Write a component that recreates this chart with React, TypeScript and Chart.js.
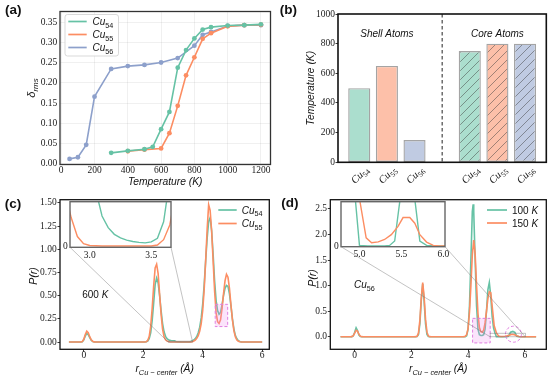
import React, { useEffect, useRef } from 'react';
import { Chart, registerables } from 'chart.js';

Chart.register(...registerables);

const W = 554;
const H = 375;
const SANS = '"Liberation Sans", Arial, sans-serif';
const SERIF = '"Liberation Serif", "Times New Roman", serif';
const GREEN = '#66c2a5';
const ORANGE = '#fc8d62';
const PURPLE = '#8da0cb';

// ---------------- (a) delta_rms vs temperature ----------------
const tempCu54 = [300, 400, 500, 550, 600, 650, 700, 750, 800, 850, 900, 1000, 1100, 1200];
const deltaCu54 = [0.026, 0.031, 0.035, 0.041, 0.085, 0.128, 0.238, 0.282, 0.311, 0.333, 0.339, 0.343, 0.344, 0.346];
const tempCu55 = [400, 500, 600, 650, 700, 750, 800, 850, 900, 1000, 1100, 1200];
const deltaCu55 = [0.030, 0.034, 0.037, 0.075, 0.143, 0.219, 0.264, 0.310, 0.324, 0.341, 0.344, 0.345];
const tempCu56 = [50, 100, 150, 200, 300, 400, 500, 600, 700, 800, 850, 900, 1000, 1100, 1200];
const deltaCu56 = [0.011, 0.015, 0.046, 0.166, 0.235, 0.242, 0.245, 0.251, 0.262, 0.293, 0.320, 0.327, 0.342, 0.344, 0.344];
const tempTicks = [0, 200, 400, 600, 800, 1000, 1200];
const deltaTicks = [0, 0.05, 0.1, 0.15, 0.2, 0.25, 0.3, 0.35];

// ---------------- (b) melting temperatures ----------------
const clusterSizes = ['54', '55', '56'];
const shellPos = [0, 1, 2];
const corePos = [4, 5, 6];
const shellMelt = [500, 650, 150];
const coreMelt = [750, 800, 800];
const separatorPos = 3;
const meltTicks = [0, 200, 400, 600, 800, 1000];

// ---------------- (c) P(r), 600 K ----------------
const pCu54: [number, number][] = [
  [-0.5, 0], [-0.3, 0], [-0.1, 0], [-0.05, 0.004], [0, 0.025], [0.05, 0.065], [0.1, 0.093], [0.15, 0.08], [0.2, 0.048],
  [0.25, 0.02], [0.3, 0.007], [0.35, 0.002], [0.4, 0], [1.0, 0], [2.0, 0], [2.05, 0.001], [2.1, 0.003], [2.15, 0.011],
  [2.2, 0.036], [2.25, 0.1], [2.3, 0.23], [2.35, 0.42], [2.4, 0.62], [2.45, 0.69], [2.5, 0.64], [2.55, 0.5], [2.6, 0.34],
  [2.65, 0.2], [2.7, 0.11], [2.75, 0.062], [2.8, 0.037], [2.85, 0.024], [2.9, 0.018], [2.95, 0.015], [3.0, 0.014],
  [3.05, 0.0125], [3.1, 0.0068], [3.15, 0.0042], [3.2, 0.0027], [3.25, 0.0019], [3.3, 0.0014], [3.35, 0.0011],
  [3.4, 0.0009], [3.45, 0.0008], [3.5, 0.001], [3.55, 0.0018], [3.6, 0.0055], [3.65, 0.015], [3.7, 0.022], [3.75, 0.036],
  [3.8, 0.06], [3.85, 0.1], [3.9, 0.16], [3.95, 0.26], [4.0, 0.41], [4.05, 0.62], [4.1, 0.88], [4.15, 1.12], [4.2, 1.3],
  [4.25, 1.34], [4.3, 1.2], [4.35, 0.95], [4.4, 0.66], [4.45, 0.45], [4.5, 0.34], [4.55, 0.3], [4.6, 0.32], [4.65, 0.4],
  [4.7, 0.5], [4.75, 0.58], [4.8, 0.61], [4.85, 0.6], [4.9, 0.52], [4.95, 0.39], [5.0, 0.25], [5.05, 0.14], [5.1, 0.07],
  [5.15, 0.035], [5.2, 0.015], [5.25, 0.006], [5.3, 0.002], [5.35, 0], [6.0, 0],
];
const pCu55: [number, number][] = [
  [-0.5, 0], [-0.3, 0], [-0.1, 0], [-0.05, 0.005], [0, 0.03], [0.05, 0.08], [0.1, 0.117], [0.15, 0.1], [0.2, 0.058],
  [0.25, 0.025], [0.3, 0.008], [0.35, 0.002], [0.4, 0], [1.0, 0], [2.0, 0], [2.05, 0.001], [2.1, 0.004], [2.15, 0.016],
  [2.2, 0.06], [2.25, 0.17], [2.3, 0.36], [2.35, 0.6], [2.4, 0.8], [2.45, 0.84], [2.5, 0.74], [2.55, 0.52], [2.6, 0.3],
  [2.65, 0.14], [2.7, 0.058], [2.75, 0.024], [2.8, 0.012], [2.85, 0.0064], [2.9, 0.0022], [2.95, 0.0006], [3.0, 0.0002],
  [3.1, 0.0001], [3.5, 0.0001], [3.55, 0.0003], [3.6, 0.0015], [3.65, 0.0048], [3.7, 0.012], [3.75, 0.022], [3.8, 0.04],
  [3.85, 0.07], [3.9, 0.12], [3.95, 0.2], [4.0, 0.34], [4.05, 0.57], [4.1, 0.88], [4.15, 1.22], [4.2, 1.48], [4.25, 1.42],
  [4.3, 1.2], [4.35, 0.88], [4.4, 0.55], [4.45, 0.32], [4.5, 0.22], [4.55, 0.2], [4.6, 0.24], [4.65, 0.36], [4.7, 0.52],
  [4.75, 0.66], [4.8, 0.73], [4.85, 0.7], [4.9, 0.58], [4.95, 0.4], [5.0, 0.24], [5.05, 0.12], [5.1, 0.055], [5.15, 0.022],
  [5.2, 0.008], [5.25, 0.003], [5.3, 0.001], [5.35, 0], [6.0, 0],
];
const pTicksC = [0, 0.25, 0.5, 0.75, 1.0, 1.25, 1.5];
const rTicks = [0, 2, 4, 6];
const insetTicksC = [3.0, 3.5];
const highlightC = { x: [4.42, 4.84], y: [0.167, 0.407] };

// ---------------- (d) P(r), Cu56 ----------------
const p100K: [number, number][] = [
  [-0.5, 0], [-0.15, 0], [-0.1, 0.002], [-0.05, 0.015], [0, 0.09], [0.05, 0.175], [0.1, 0.12], [0.15, 0.035], [0.2, 0.005],
  [0.25, 0], [2.15, 0], [2.2, 0.003], [2.25, 0.04], [2.3, 0.25], [2.35, 0.72], [2.4, 1.03], [2.45, 0.7], [2.5, 0.25],
  [2.55, 0.045], [2.6, 0.004], [2.65, 0], [3.85, 0], [3.9, 0.002], [3.95, 0.02], [4.0, 0.15], [4.05, 0.6], [4.1, 1.5],
  [4.15, 2.45], [4.18, 2.59], [4.2, 2.45], [4.25, 1.5], [4.3, 0.6], [4.35, 0.15], [4.4, 0.04], [4.45, 0.025], [4.5, 0.025],
  [4.55, 0.04], [4.6, 0.15], [4.65, 0.5], [4.7, 0.92], [4.75, 1.06], [4.8, 0.8], [4.85, 0.4], [4.9, 0.17], [4.95, 0.075],
  [5.0, 0.001], [5.1, 0], [5.3, 0], [5.36, 0.001], [5.42, 0.008], [5.5, 0.09], [5.58, 0.105], [5.65, 0.085], [5.72, 0.008],
  [5.8, 0.001], [5.9, 0], [6.4, 0],
];
const p150K: [number, number][] = [
  [-0.5, 0], [-0.15, 0], [-0.1, 0.003], [-0.05, 0.02], [0, 0.07], [0.05, 0.125], [0.1, 0.11], [0.15, 0.05], [0.2, 0.012],
  [0.25, 0.002], [0.3, 0], [2.1, 0], [2.15, 0.002], [2.2, 0.008], [2.25, 0.07], [2.3, 0.32], [2.35, 0.76], [2.4, 1.06],
  [2.45, 0.78], [2.5, 0.34], [2.55, 0.09], [2.6, 0.015], [2.65, 0.002], [2.7, 0], [3.8, 0], [3.85, 0.003], [3.9, 0.01],
  [3.95, 0.04], [4.0, 0.16], [4.05, 0.48], [4.1, 1.0], [4.15, 1.6], [4.2, 1.89], [4.25, 1.62], [4.3, 1.0], [4.35, 0.45],
  [4.4, 0.18], [4.45, 0.1], [4.5, 0.09], [4.55, 0.13], [4.6, 0.27], [4.65, 0.5], [4.7, 0.75], [4.75, 0.88], [4.8, 0.86],
  [4.85, 0.6], [4.92, 0.22], [5.0, 0.075], [5.08, 0.013], [5.145, 0.0052], [5.224, 0.0067], [5.3, 0.0104], [5.38, 0.018],
  [5.46, 0.031], [5.52, 0.045], [5.6, 0.045], [5.66, 0.036], [5.72, 0.018], [5.8, 0.0063], [5.88, 0.001], [5.95, 0], [6.4, 0],
];
const pTicksD = [0, 0.5, 1.0, 1.5, 2.0, 2.5];
const insetTicksD = [5.0, 5.5, 6.0];
const highlightD = { x: [4.16, 4.78], y: [-0.12, 0.36] };
const circleD = { x: 5.6, y: 0.05 };

// ---------------- layout (frame boxes in page px) ----------------
const areaA = { l: 60, t: 11.5, r: 270.5, b: 164.5 };
const areaB = { l: 338, t: 14, r: 546.3, b: 162.3 };
const areaC = { l: 60, t: 199.7, r: 269.3, b: 349.3 };
const areaD = { l: 330.3, t: 199.7, r: 546.3, b: 349.3 };
const areaCi = { l: 70, t: 201.7, r: 171, b: 247.3 };
const areaDi = { l: 341, t: 201.7, r: 445, b: 246.7 };

type Seg = { t: string; it?: boolean; b?: boolean; sub?: boolean; fam?: string };

function drawRich(ctx: any, segs: Seg[], x: number, y: number, size: number, o: any = {}) {
  const align = o.align || 'center';
  const fam = o.fam || SANS;
  ctx.save();
  ctx.translate(x, y);
  if (o.rot) ctx.rotate(o.rot);
  ctx.fillStyle = o.color || '#111';
  ctx.textBaseline = 'alphabetic';
  ctx.textAlign = 'left';
  const fnt = (s: Seg) => `${s.it ? 'italic ' : ''}${s.b ? 'bold ' : ''}${(s.sub ? size * 0.72 : size).toFixed(2)}px ${s.fam || fam}`;
  const ws = segs.map((s) => { ctx.font = fnt(s); return ctx.measureText(s.t).width; });
  const total = ws.reduce((a, b) => a + b, 0);
  let cx = align === 'center' ? -total / 2 : align === 'right' ? -total : 0;
  const base = size * 0.36;
  segs.forEach((s, i) => {
    ctx.font = fnt(s);
    ctx.fillText(s.t, cx, base + (s.sub ? size * 0.27 : 0));
    cx += ws[i];
  });
  ctx.restore();
}

const cuLabel = (n: string, fam?: string): Seg[] => [{ t: 'Cu', it: true, fam }, { t: n, sub: true, fam }];

function drawLegend(ctx: any, items: { color: string; label: Seg[] }[], x1: number, x2: number, tx: number, ys: number[], size: number) {
  items.forEach((it, i) => {
    ctx.save();
    ctx.strokeStyle = it.color;
    ctx.lineWidth = 1.7;
    ctx.beginPath();
    ctx.moveTo(x1, ys[i]);
    ctx.lineTo(x2, ys[i]);
    ctx.stroke();
    ctx.restore();
    drawRich(ctx, it.label, tx, ys[i], size, { align: 'left' });
  });
}

function frame(ctx: any, a: any, color: string, lw: number) {
  ctx.save();
  ctx.strokeStyle = color;
  ctx.lineWidth = lw;
  ctx.strokeRect(a.left, a.top, a.right - a.left, a.bottom - a.top);
  ctx.restore();
}

function highlight(ctx: any, ch: any, hx: number[], hy: number[]) {
  const xs = ch.scales.x, ys = ch.scales.y;
  const l = xs.getPixelForValue(hx[0]), r = xs.getPixelForValue(hx[1]);
  const t = ys.getPixelForValue(hy[1]), b = ys.getPixelForValue(hy[0]);
  ctx.save();
  ctx.fillStyle = 'rgba(238,130,238,0.22)';
  ctx.fillRect(l, t, r - l, b - t);
  ctx.strokeStyle = '#e07ee0';
  ctx.lineWidth = 1;
  ctx.setLineDash([3, 2]);
  ctx.strokeRect(l, t, r - l, b - t);
  ctx.restore();
}

function layoutFor(a: any, yW: number, xH: number) {
  return { autoPadding: false, padding: { left: a.l - yW, top: a.t, right: W - a.r, bottom: H - a.b - xH } };
}

function mkAxis(o: any) {
  const horiz = o.pos === 'bottom';
  return {
    type: 'linear',
    position: o.pos,
    min: o.min,
    max: o.max,
    offset: false,
    afterBuildTicks: (s: any) => { s.ticks = o.ticks.map((v: number) => ({ value: v })); },
    afterFit: (s: any) => { if (horiz) s.height = o.fit; else s.width = o.fit; },
    border: { display: false },
    grid: {
      display: true, offset: false, drawOnChartArea: !!o.grid, drawTicks: (o.tick || 0) > 0, tickLength: o.tick || 0,
      color: o.grid ? 'rgba(0,0,0,0.08)' : '#222', tickColor: '#222', tickWidth: 0.9, lineWidth: 0.8,
    },
    ticks: {
      display: o.labels !== false, padding: o.pad, autoSkip: false, maxRotation: 0, minRotation: 0, color: '#1a1a1a',
      font: { family: SERIF, size: o.size || 9.5 }, callback: (v: any) => o.fmt(Number(v)),
    },
  };
}

function baseOpts(a: any, yW: number, xH: number, scales: any) {
  return {
    responsive: false, maintainAspectRatio: false, animation: false, devicePixelRatio: 1, events: [],
    layout: layoutFor(a, yW, xH),
    plugins: { legend: { display: false }, tooltip: { enabled: false }, title: { display: false } },
    scales,
  };
}

const xy = (xs: number[], ys: number[]) => xs.map((x, i) => ({ x, y: ys[i] }));
const pairs = (p: [number, number][]) => p.map(([x, y]) => ({ x, y }));

function lineDs(data: any[], color: string, order: number, lw = 1.6) {
  return { data, borderColor: color, backgroundColor: color, borderWidth: lw, pointRadius: 0, tension: 0, order, fill: false };
}

function hatch(fill: string, line: string) {
  const c = document.createElement('canvas');
  c.width = 9; c.height = 9;
  const g = c.getContext('2d')!;
  g.fillStyle = fill;
  g.fillRect(0, 0, 9, 9);
  g.strokeStyle = line;
  g.lineWidth = 0.8;
  g.beginPath();
  g.moveTo(0, 9); g.lineTo(9, 0);
  g.moveTo(-1, 1); g.lineTo(1, -1);
  g.moveTo(8, 10); g.lineTo(10, 8);
  g.stroke();
  return g.createPattern(c, 'repeat');
}

function cfgA() {
  const mk = (xs: number[], ys: number[], c: string, order: number) => ({
    data: xy(xs, ys), borderColor: c, backgroundColor: c, borderWidth: 1.6, pointRadius: 2.4, pointBackgroundColor: c,
    pointBorderWidth: 0, tension: 0, order,
  });
  return {
    type: 'line',
    data: { datasets: [mk(tempCu56, deltaCu56, PURPLE, 2), mk(tempCu55, deltaCu55, ORANGE, 1), mk(tempCu54, deltaCu54, GREEN, 0)] },
    options: baseOpts(areaA, 40, 20, {
      x: mkAxis({ pos: 'bottom', min: -7.5, max: 1257.5, ticks: tempTicks, fmt: (v: number) => String(v), fit: 20, tick: 0, pad: 0, grid: true }),
      y: mkAxis({ pos: 'left', min: -0.003, max: 0.378, ticks: deltaTicks, fmt: (v: number) => v.toFixed(2), fit: 40, tick: 0, pad: 2.7, grid: true }),
    }),
    plugins: [{
      id: 'pa',
      afterDraw(ch: any) {
        const ctx = ch.ctx, a = ch.chartArea;
        frame(ctx, a, '#333', 1.3);
        ctx.save();
        ctx.fillStyle = 'rgba(255,255,255,0.85)';
        ctx.strokeStyle = '#cfcfcf';
        ctx.lineWidth = 0.8;
        ctx.beginPath();
        ctx.roundRect(65, 14.5, 53.5, 41.5, 2.5);
        ctx.fill();
        ctx.stroke();
        ctx.restore();
        drawLegend(ctx, [
          { color: GREEN, label: cuLabel('54') },
          { color: ORANGE, label: cuLabel('55') },
          { color: PURPLE, label: cuLabel('56') },
        ], 68.3, 86.7, 92.5, [21.5, 34.5, 47.5], 10);
        drawRich(ctx, [{ t: 'δ', it: true }, { t: 'rms', it: true, sub: true }], 31, (a.top + a.bottom) / 2, 11, { rot: -Math.PI / 2 });
        drawRich(ctx, [{ t: 'Temperature (K)', it: true }], (a.left + a.right) / 2, 181, 10.3);
        drawRich(ctx, [{ t: '(a)', b: true }], 13.3, 8.7, 13.5);
      },
    }],
  };
}

function cfgB() {
  const gL = 'rgb(171,222,206)', oL = 'rgb(253,192,169)', pL = 'rgb(192,203,226)';
  const hl = 'rgba(60,60,60,0.6)';
  const positions = [...shellPos, ...corePos];
  const values = [...shellMelt, ...coreMelt];
  return {
    type: 'bar',
    data: {
      datasets: [{
        data: xy(positions, values),
        backgroundColor: [gL, oL, pL, hatch(gL, hl), hatch(oL, hl), hatch(pL, hl)],
        borderColor: 'rgba(90,90,90,0.55)', borderWidth: 1.4, borderSkipped: false,
        barPercentage: 0.8, categoryPercentage: 1,
      }],
    },
    options: baseOpts(areaB, 40, 20, {
      x: mkAxis({ pos: 'bottom', min: -0.77, max: 6.77, ticks: positions, fmt: () => '', fit: 20, tick: 0, pad: 0, labels: false }),
      y: mkAxis({ pos: 'left', min: 0, max: 1000, ticks: meltTicks, fmt: (v: number) => String(v), fit: 40, tick: 2.5, pad: 0.6 }),
    }),
    plugins: [{
      id: 'pb',
      afterDraw(ch: any) {
        const ctx = ch.ctx, a = ch.chartArea, xs = ch.scales.x;
        const sx = xs.getPixelForValue(separatorPos);
        ctx.save();
        ctx.strokeStyle = '#222';
        ctx.lineWidth = 1;
        ctx.setLineDash([3.5, 2.5]);
        ctx.beginPath();
        ctx.moveTo(sx, a.top);
        ctx.lineTo(sx, a.bottom);
        ctx.stroke();
        ctx.restore();
        frame(ctx, a, '#111', 1.6);
        drawRich(ctx, [{ t: 'Shell Atoms', it: true }], xs.getPixelForValue(shellPos[1]), 33, 10);
        drawRich(ctx, [{ t: 'Core Atoms', it: true }], xs.getPixelForValue(corePos[1]), 33, 10);
        positions.forEach((p, i) => {
          drawRich(ctx, cuLabel(clusterSizes[i % 3], SERIF), xs.getPixelForValue(p), 174.5, 10.5, { rot: -Math.PI / 4, fam: SERIF });
        });
        drawRich(ctx, [{ t: 'Temperature (K)', it: true }], 310.3, (a.top + a.bottom) / 2, 10.3, { rot: -Math.PI / 2 });
        drawRich(ctx, [{ t: '(b)', b: true }], 288.3, 8.7, 13.5);
      },
    }],
  };
}

const rTitle: Seg[] = [{ t: 'r', it: true }, { t: 'Cu − center', it: true, sub: true }, { t: ' (Å)', it: true }];

function cfgC() {
  return {
    type: 'line',
    data: { datasets: [lineDs(pairs(pCu54), GREEN, 1), lineDs(pairs(pCu55), ORANGE, 0)] },
    options: baseOpts(areaC, 40, 20, {
      x: mkAxis({ pos: 'bottom', min: -0.8, max: 6.24, ticks: rTicks, fmt: (v: number) => String(v), fit: 20, tick: 2.5, pad: -2.3 }),
      y: mkAxis({ pos: 'left', min: -0.078, max: 1.535, ticks: pTicksC, fmt: (v: number) => v.toFixed(2), fit: 40, tick: 2.5, pad: 0.8 }),
    }),
    plugins: [{
      id: 'pc',
      afterDraw(ch: any) {
        const ctx = ch.ctx, a = ch.chartArea;
        highlight(ctx, ch, highlightC.x, highlightC.y);
        frame(ctx, a, '#111', 1.3);
        drawLegend(ctx, [
          { color: GREEN, label: cuLabel('54') },
          { color: ORANGE, label: cuLabel('55') },
        ], 218.3, 236.7, 241.7, [210, 223.5], 10);
        drawRich(ctx, [{ t: '600 ' }, { t: 'K', it: true }], 95.3, 294.3, 10);
        drawRich(ctx, [{ t: 'P(r)', it: true }], 33.3, 276, 10.5, { rot: -Math.PI / 2 });
        drawRich(ctx, rTitle, (a.left + a.right) / 2, 368.7, 10.3);
        drawRich(ctx, [{ t: '(c)', b: true }], 13, 203.2, 13.5);
      },
    }],
  };
}

function cfgD() {
  return {
    type: 'line',
    data: { datasets: [lineDs(pairs(p100K), GREEN, 1), lineDs(pairs(p150K), ORANGE, 0)] },
    options: baseOpts(areaD, 40, 20, {
      x: mkAxis({ pos: 'bottom', min: -0.86, max: 6.76, ticks: rTicks, fmt: (v: number) => String(v), fit: 20, tick: 2.5, pad: -2.3 }),
      y: mkAxis({ pos: 'left', min: -0.245, max: 2.68, ticks: pTicksD, fmt: (v: number) => v.toFixed(1), fit: 40, tick: 2.5, pad: 0.8 }),
    }),
    plugins: [{
      id: 'pd',
      afterDraw(ch: any) {
        const ctx = ch.ctx, a = ch.chartArea;
        highlight(ctx, ch, highlightD.x, highlightD.y);
        ctx.save();
        ctx.strokeStyle = '#e07ee0';
        ctx.lineWidth = 1;
        ctx.setLineDash([3, 2]);
        ctx.beginPath();
        ctx.arc(ch.scales.x.getPixelForValue(circleD.x), ch.scales.y.getPixelForValue(circleD.y), 8, 0, Math.PI * 2);
        ctx.stroke();
        ctx.restore();
        frame(ctx, a, '#111', 1.3);
        drawLegend(ctx, [
          { color: GREEN, label: [{ t: '100 ' }, { t: 'K', it: true }] },
          { color: ORANGE, label: [{ t: '150 ' }, { t: 'K', it: true }] },
        ], 487, 507, 512, [210, 223], 10);
        drawRich(ctx, cuLabel('56'), 364.3, 284.3, 10);
        drawRich(ctx, [{ t: 'P(r)', it: true }], 312, 278, 10.5, { rot: -Math.PI / 2 });
        drawRich(ctx, rTitle, (a.left + a.right) / 2, 368.7, 10.3);
        drawRich(ctx, [{ t: '(d)', b: true }], 289.8, 202.3, 13.5);
      },
    }],
  };
}

function cfgInset(main: any, area: any, ds: any[], xmin: number, xmax: number, ymin: number, ymax: number, xt: number[]) {
  return {
    type: 'line',
    data: { datasets: ds },
    options: baseOpts(area, 12, 16, {
      x: mkAxis({ pos: 'bottom', min: xmin, max: xmax, ticks: xt, fmt: (v: number) => v.toFixed(1), fit: 16, tick: 0, pad: 2.5 }),
      y: mkAxis({ pos: 'left', min: ymin, max: ymax, ticks: [0], fmt: () => '0', fit: 12, tick: 0, pad: 2.3 }),
    }),
    plugins: [{
      id: 'inset',
      beforeDraw(ch: any) {
        const ctx = ch.ctx, a = ch.chartArea;
        ctx.save();
        ctx.fillStyle = '#fff';
        ctx.fillRect(a.left, a.top, a.right - a.left, a.bottom - a.top);
        ctx.restore();
      },
      afterDraw(ch: any) {
        const ctx = ch.ctx, a = ch.chartArea;
        frame(ctx, a, '#666', 1.4);
        const mx = main.scales.x, my = main.scales.y;
        const rx1 = mx.getPixelForValue(xmin), rx2 = mx.getPixelForValue(xmax);
        const ry1 = my.getPixelForValue(ymin), ry2 = my.getPixelForValue(ymax);
        ctx.save();
        ctx.strokeStyle = 'rgba(120,120,120,0.75)';
        ctx.lineWidth = 0.6;
        ctx.strokeRect(rx1, ry2, rx2 - rx1, ry1 - ry2);
        ctx.beginPath();
        ctx.moveTo(a.left, a.bottom);
        ctx.lineTo(rx1, ry1);
        ctx.moveTo(a.right, a.bottom);
        ctx.lineTo(rx2, ry1);
        ctx.stroke();
        ctx.restore();
      },
    }],
  };
}

export default function App() {
  const rA = useRef<HTMLCanvasElement>(null);
  const rB = useRef<HTMLCanvasElement>(null);
  const rC = useRef<HTMLCanvasElement>(null);
  const rD = useRef<HTMLCanvasElement>(null);
  const rCi = useRef<HTMLCanvasElement>(null);
  const rDi = useRef<HTMLCanvasElement>(null);

  useEffect(() => {
    const charts: Chart[] = [];
    charts.push(new Chart(rA.current!, cfgA() as any));
    charts.push(new Chart(rB.current!, cfgB() as any));
    const mc = new Chart(rC.current!, cfgC() as any);
    const md = new Chart(rD.current!, cfgD() as any);
    charts.push(mc, md);
    charts.push(new Chart(rCi.current!, cfgInset(mc, areaCi,
      [lineDs(pairs(pCu54), GREEN, 1, 1.4), lineDs(pairs(pCu55), ORANGE, 0, 1.4)], 2.84, 3.66, -0.0002, 0.01, insetTicksC) as any));
    charts.push(new Chart(rDi.current!, cfgInset(md, areaDi,
      [lineDs(pairs(p100K), GREEN, 1, 1.4), lineDs(pairs(p150K), ORANGE, 0, 1.4)], 4.78, 6.02, -0.001, 0.07, insetTicksD) as any));
    return () => charts.forEach((c) => c.destroy());
  }, []);

  const cs: React.CSSProperties = { position: 'absolute', left: 0, top: 0, width: W, height: H };
  return (
    <div style={{ position: 'fixed', left: 0, top: 0, width: W, height: H, background: '#fff', overflow: 'hidden' }}>
      <canvas ref={rA} width={W} height={H} style={cs} />
      <canvas ref={rB} width={W} height={H} style={cs} />
      <canvas ref={rC} width={W} height={H} style={cs} />
      <canvas ref={rD} width={W} height={H} style={cs} />
      <canvas ref={rCi} width={W} height={H} style={cs} />
      <canvas ref={rDi} width={W} height={H} style={cs} />
    </div>
  );
}
